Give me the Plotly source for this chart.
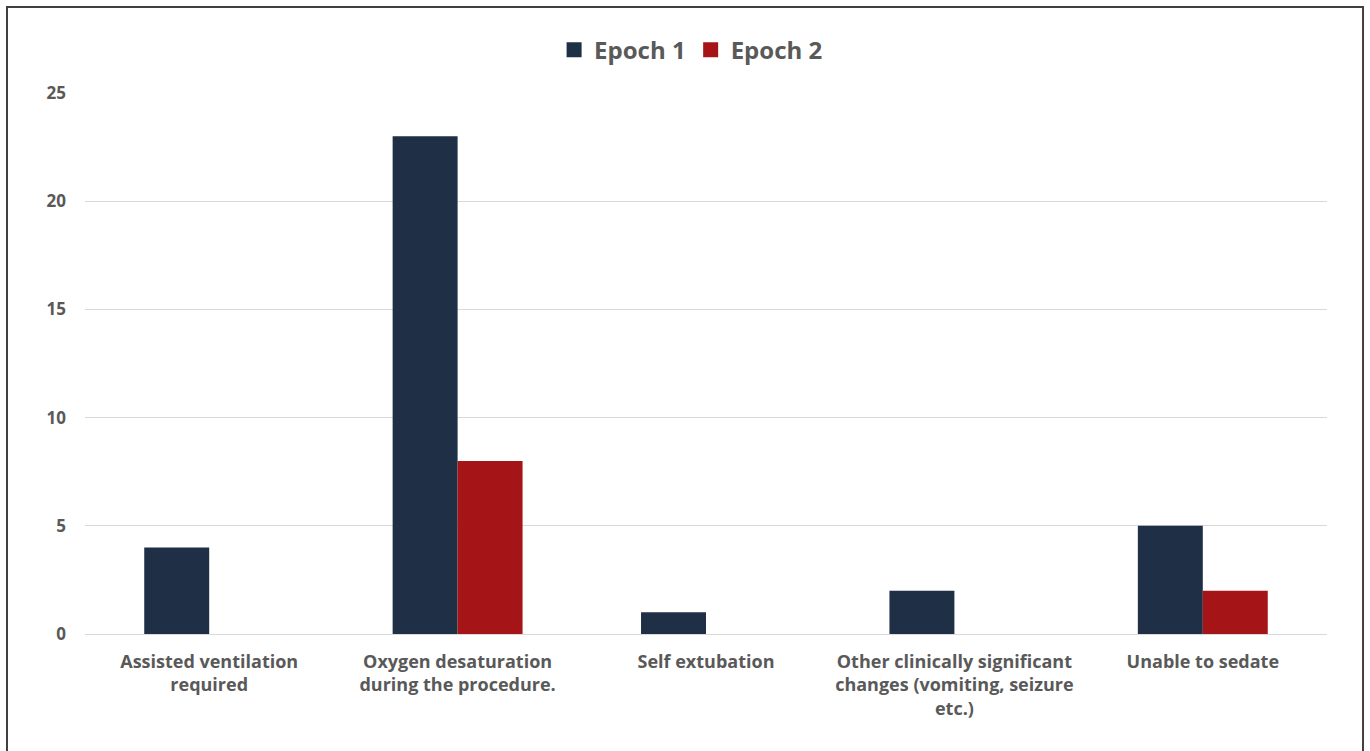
import plotly.graph_objects as go

categories = [
    "Assisted ventilation<br>required",
    "Oxygen desaturation<br>during the procedure.",
    "Self extubation",
    "Other clinically significant<br>changes (vomiting, seizure<br>etc.)",
    "Unable to sedate",
]
epoch1 = [4, 23, 1, 2, 5]
epoch2 = [0, 8, 0, 0, 2]
y_ticks = [0, 5, 10, 15, 20, 25]
series_names = ["Epoch 1", "Epoch 2"]
series_colors = ["#1E2F46", "#A51416"]

FONT = "Open Sans"
GRAY = "#595959"

fig = go.Figure()
for name, vals, col in zip(series_names, [epoch1, epoch2], series_colors):
    fig.add_trace(go.Bar(name=name, x=categories, y=vals, marker_color=col,
                         marker_line_width=0, showlegend=False))
for name, col in zip(series_names, series_colors):
    fig.add_trace(go.Scatter(name=name, x=[None], y=[None], mode="markers",
                             marker=dict(symbol="square", size=15, color=col),
                             showlegend=True))

fig.update_layout(
    width=1370, height=751,
    margin=dict(l=85, r=43, t=93, b=117),
    paper_bgcolor="white", plot_bgcolor="white",
    barmode="group", bargap=0.477, bargroupgap=0,
    font=dict(family=FONT, color=GRAY),
    legend=dict(orientation="h", x=0.488, xanchor="center", y=1.079, yanchor="middle",
                font=dict(size=24, family=FONT, color=GRAY, weight="bold"),
                itemwidth=30, traceorder="normal"),
    xaxis=dict(showgrid=False, showline=False, ticks="", ticklabelstandoff=15,
               tickfont=dict(size=18, family=FONT, color=GRAY, weight="bold")),
    yaxis=dict(range=[0, 25], tickvals=y_ticks, showgrid=True, gridcolor="#D9D9D9",
               gridwidth=1, zeroline=True, zerolinecolor="#D9D9D9", zerolinewidth=1,
               showline=False, ticks="", ticklabelstandoff=18,
               tickfont=dict(size=17, family=FONT, color=GRAY, weight="bold")),
    shapes=[dict(type="rect", xref="paper", yref="paper",
                 x0=-0.0628, x1=1.029, y0=-0.25, y1=1.159,
                 line=dict(color="#404040", width=2), fillcolor="rgba(0,0,0,0)",
                 layer="below")],
)

fig.write_html("out.html")
